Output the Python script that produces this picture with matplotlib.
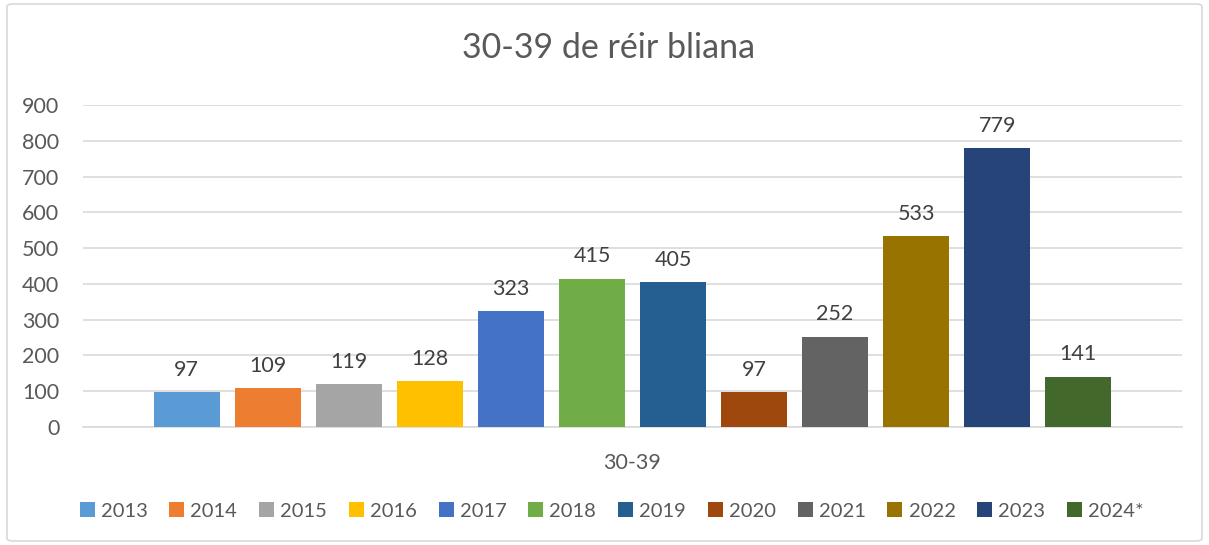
import matplotlib.pyplot as plt
from matplotlib.patches import FancyBboxPatch

years = ['2013', '2014', '2015', '2016', '2017', '2018', '2019', '2020', '2021', '2022', '2023', '2024*']
counts = [97, 109, 119, 128, 323, 415, 405, 97, 252, 533, 779, 141]
colors = ['#5B9BD5', '#ED7D31', '#A5A5A5', '#FFC000', '#4472C4', '#70AD47',
          '#255E91', '#9E480E', '#636363', '#997300', '#264478', '#43682B']
category = '30-39'
title = '30-39 de réir bliana'

plt.rcParams['font.family'] = ['Lato', 'DejaVu Sans']
text_col = '#595959'

fig = plt.figure(figsize=(12.09, 5.45), dpi=100)
ax = fig.add_axes([83 / 1209, 1 - 427 / 545, (1182 - 83) / 1209, (427 - 105) / 545])

handles = []
for i, (yr, v, c) in enumerate(zip(years, counts, colors)):
    b = ax.bar(i, v, width=0.81, color=c, label=yr, zorder=3)
    handles.append(b)
    ax.annotate(str(v), (i, v), xytext=(0, 9), textcoords='offset points',
                ha='center', va='bottom', fontsize=15.5, color='#404040')

ax.set_xlim(-1.28, 12.28)
ax.set_ylim(0, 900)
ax.set_yticks(range(0, 901, 100))
ax.yaxis.grid(True, color='#d9d9d9', linewidth=1.2, zorder=0)
ax.set_xticks([5.5])
ax.set_xticklabels([category])
ax.tick_params(axis='x', length=0, pad=19, labelsize=15.5, labelcolor=text_col)
ax.tick_params(axis='y', length=0, pad=17, labelsize=15.5, labelcolor=text_col)
for s in ['top', 'right', 'left']:
    ax.spines[s].set_visible(False)
ax.spines['bottom'].set_color('#d9d9d9')
ax.spines['bottom'].set_linewidth(1.2)

fig.text(0.503, 1 - 48 / 545, title, ha='center', va='center', fontsize=24.5, color=text_col)

fig.legend(handles=handles, labels=years, loc='center', bbox_to_anchor=(0.506, 1 - 511 / 545),
           ncol=12, frameon=False, fontsize=14.5, handlelength=0.75, handleheight=0.75,
           handletextpad=0.3, columnspacing=1.08, labelcolor=text_col)

border = FancyBboxPatch((7 / 1209, 4 / 545), 1 - 14 / 1209, 1 - 8 / 545,
                        boxstyle='round,pad=0,rounding_size=0.005', transform=fig.transFigure,
                        facecolor='none', edgecolor='#d9d9d9', linewidth=1.2)
fig.patches.append(border)

fig.savefig('out.png', dpi=100)
